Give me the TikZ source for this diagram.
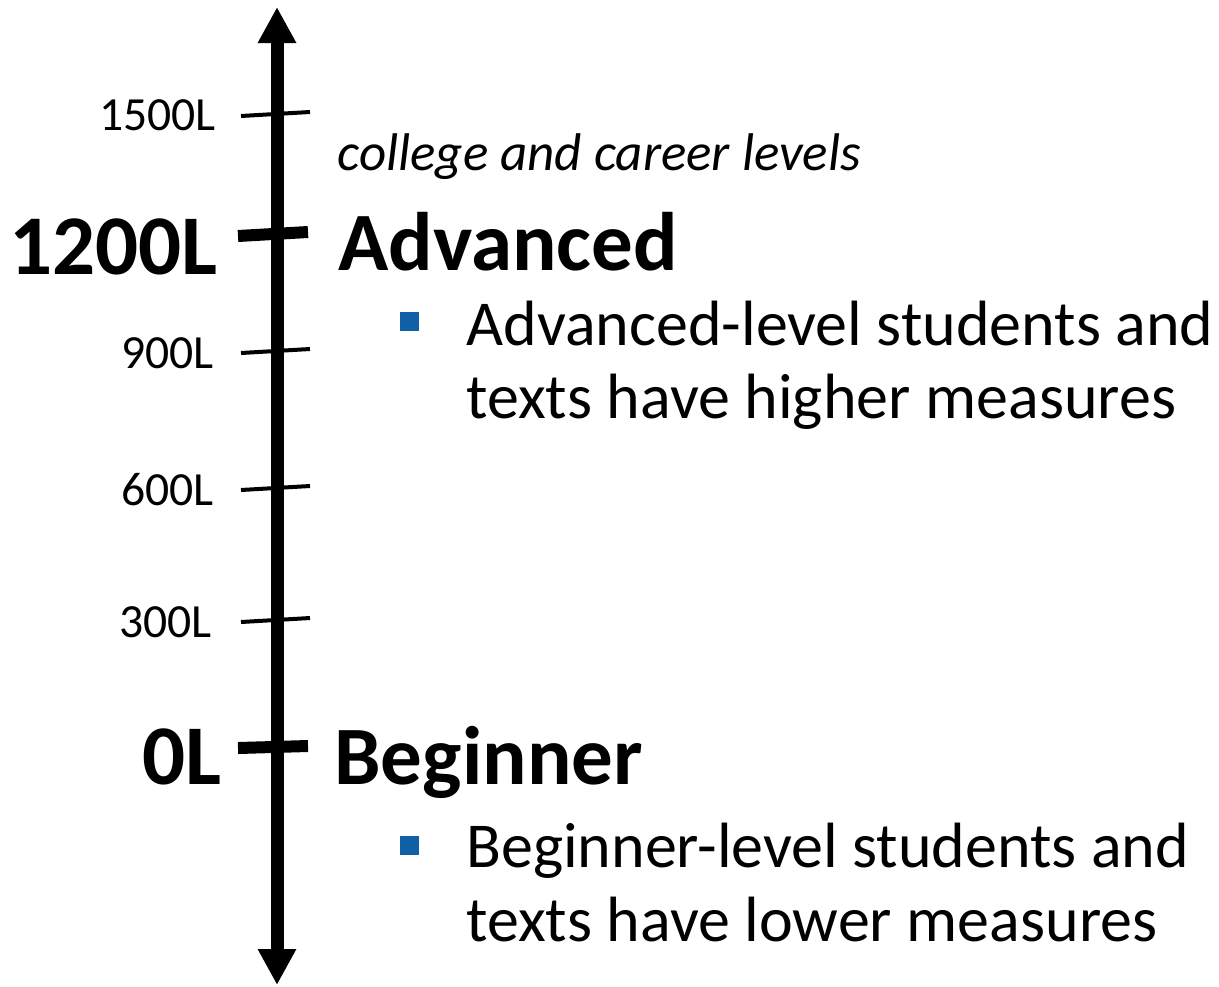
\documentclass[tikz,border=0pt]{standalone}
\usepackage{fontspec}
\setmainfont{Carlito}
\usetikzlibrary{arrows.meta}
\definecolor{puce}{RGB}{16,96,168}

\begin{document}
\begin{tikzpicture}[x=0.5pt,y=-0.5pt,
  >={Triangle[width=18pt,length=18pt]},
  petite/.style={line width=2pt},
  grande/.style={line width=6pt},
  lex/.style={anchor=east,inner sep=0pt,font=\fontsize{23.8}{28}\selectfont},
  lexgras/.style={anchor=base east,inner sep=0pt,font=\bfseries\fontsize{42.5}{50}\selectfont},
  niveau/.style={anchor=base west,inner sep=0pt,font=\bfseries\fontsize{41.5}{49}\selectfont},
  texte/.style={anchor=base west,inner sep=0pt,font=\fontsize{32}{38}\selectfont},
  carre/.style={fill=puce,minimum size=9.5pt,inner sep=0pt}]

\useasboundingbox (0,0) rectangle (1219,986);

% axe vertical

\coordinate (haut) at (277,7) ;
\coordinate (bas) at (277,985) ;
\draw[line width=6.5pt,<->] (bas) -- (haut) ;

% graduations

\draw[petite] (241,116) -- (310,112) ;
\draw[grande] (238,236) -- (308,232) ;
\draw[petite] (241,353) -- (310,349) ;
\draw[petite] (241,490) -- (310,486) ;
\draw[petite] (241,622) -- (310,618) ;
\draw[grande] (238,748) -- (308,746) ;

\node[lex] (l1500) at (216,115) {1500L} ;
\node[lexgras] (l1200) at (218,274) {1200L} ;
\node[lex] (l900) at (214,353) {900L} ;
\node[lex] (l600) at (214,490) {600L} ;
\node[lex] (l300) at (212,622) {300L} ;
\node[lexgras] (l0) at (222,784) {0L} ;

% niveau avancé

\node[anchor=base west,inner sep=0pt,font=\itshape\fontsize{26.5}{31}\selectfont] (college) at (337,170) {college and career levels} ;
\node[niveau] (avance) at (338,270) {Advanced} ;
\node[carre] (puce1) at (409.5,321.5) {} ;
\node[texte] (avance1) at (466,345) {Advanced-level students and} ;
\node[texte] (avance2) at (466,418) {texts have higher measures} ;

% niveau débutant

\node[niveau] (debutant) at (334,784) {Beginner} ;
\node[carre] (puce2) at (409.5,845.5) {} ;
\node[texte] (debutant1) at (466,867) {Beginner-level students and} ;
\node[texte] (debutant2) at (466,941) {texts have lower measures} ;

\end{tikzpicture}
\end{document}
